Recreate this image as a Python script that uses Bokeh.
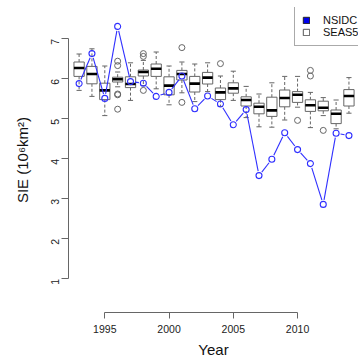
import math
from bokeh.plotting import figure
from bokeh.models import Range1d, Legend, LegendItem, FixedTicker, Title
from bokeh.embed import file_html
from bokeh.resources import INLINE

# ---------------- data ----------------
years = list(range(1993, 2015))
nsidc = [5.88, 6.63, 5.51, 7.31, 5.93, 5.89, 5.56, 5.66, 6.07, 5.25, 5.57,
         5.37, 4.85, 5.23, 3.58, 3.99, 4.65, 4.23, 3.88, 2.86, 4.64, 4.58]

seas5_low = [5.71, 5.56, 5.08, 5.80, 5.46, 5.83, 5.75, 5.35, 5.65, 5.43, 5.68,
             5.31, 5.46, 5.03, 4.80, 4.79, 4.97, 5.29, 4.78, 5.08, 4.75, 5.14]
seas5_q1 = [6.06, 5.875, 5.48, 5.92, 5.78, 6.07, 6.06, 5.60, 5.97, 5.67, 5.87,
            5.48, 5.64, 5.32, 5.125, 5.06, 5.30, 5.41, 5.185, 5.20, 4.88, 5.32]
seas5_med = [6.27, 6.12, 5.71, 5.99, 5.87, 6.17, 6.25, 5.83, 6.12, 5.88, 6.03,
             5.66, 5.76, 5.47, 5.30, 5.21, 5.52, 5.60, 5.34, 5.275, 5.125, 5.57]
seas5_q3 = [6.42, 6.31, 5.89, 6.04, 6.05, 6.22, 6.37, 6.05, 6.21, 6.06, 6.16,
            5.77, 5.90, 5.55, 5.39, 5.54, 5.72, 5.68, 5.475, 5.44, 5.22, 5.73]
seas5_high = [6.62, 6.75, 6.32, 6.17, 6.40, 6.46, 6.67, 6.32, 6.42, 6.37, 6.40,
              6.07, 6.19, 5.81, 5.62, 5.90, 6.06, 6.06, 5.66, 5.53, 5.47, 6.03]

outlier_years = [1996, 1996, 1996, 1996, 1996, 1998, 1998, 1998, 2001, 2001,
                 2004, 2010, 2011, 2011, 2012]
outlier_values = [6.44, 6.33, 5.62, 5.60, 5.24, 6.63, 6.56, 5.71, 6.78, 5.41,
                  6.38, 4.96, 6.21, 6.07, 4.71]

x_ticks = [1995, 2000, 2005, 2010]
y_ticks = [1, 2, 3, 4, 5, 6, 7]

# ---------------- layout ----------------
W, H = 358, 360
BL, BR, BT, BB = 68, 0, 7, 48
X0, X1 = 1992.175, 2014.743
Y0, Y1 = 0.1575, 7.7825

FONT = "Liberation Sans"
BLUE = "#2f2fff"
GREY = "#666666"

p = figure(width=W, height=H, x_range=Range1d(X0, X1), y_range=Range1d(Y0, Y1),
           output_backend="svg", toolbar_location=None,
           min_border_left=BL, min_border_right=BR,
           min_border_top=BT, min_border_bottom=BB)
p.outline_line_color = None
p.grid.visible = False
p.background_fill_color = "white"
p.border_fill_color = "white"

# axes
for ax in (p.xaxis[0], p.yaxis[0]):
    ax.axis_line_color = GREY
    ax.major_tick_line_color = GREY
    ax.minor_tick_line_color = None
    ax.major_tick_in = 0
    ax.major_label_text_font = FONT
    ax.major_label_text_font_size = "10.5px"
    ax.major_label_text_color = "#222222"
    ax.axis_label_text_font = FONT
    ax.axis_label_text_font_size = "15px"
    ax.axis_label_text_font_style = "normal"
    ax.axis_label_text_color = "#111111"

xa = p.xaxis[0]
xa.ticker = FixedTicker(ticks=x_ticks)
xa.bounds = (x_ticks[0], x_ticks[-1])
xa.major_tick_out = 6
xa.major_label_standoff = 6

ya = p.yaxis[0]
ya.ticker = FixedTicker(ticks=y_ticks)
ya.bounds = (y_ticks[0], y_ticks[-1])
ya.major_tick_out = 7
ya.major_label_standoff = 6
ya.major_label_orientation = math.pi / 2
ya.axis_label = "SIE (10\u2076km\u00b2)"
ya.axis_label_standoff = 14

# x-axis title as a panel below the axis
p.add_layout(Title(text="Year", align="center", text_font=FONT,
                   text_font_size="15px", text_font_style="normal",
                   text_color="#111111", standoff=6, offset=0), "below")

# ---------------- SEAS5 boxplots ----------------
half_box = 0.4
half_cap = 0.2
p.segment(x0=years, y0=seas5_q3, x1=years, y1=seas5_high,
          line_color=GREY, line_dash="3 2", line_width=1)
p.segment(x0=years, y0=seas5_q1, x1=years, y1=seas5_low,
          line_color=GREY, line_dash="3 2", line_width=1)
p.segment(x0=[y - half_cap for y in years], y0=seas5_high,
          x1=[y + half_cap for y in years], y1=seas5_high,
          line_color=GREY, line_width=1)
p.segment(x0=[y - half_cap for y in years], y0=seas5_low,
          x1=[y + half_cap for y in years], y1=seas5_low,
          line_color=GREY, line_width=1)
p.quad(left=[y - half_box for y in years], right=[y + half_box for y in years],
       top=seas5_q3, bottom=seas5_q1,
       fill_color="white", line_color=GREY, line_width=1)
p.segment(x0=[y - half_box for y in years], y0=seas5_med,
          x1=[y + half_box for y in years], y1=seas5_med,
          line_color="black", line_width=2.6)
p.scatter(x=outlier_years, y=outlier_values, marker="circle", size=6,
          fill_color=None, line_color=GREY, line_width=1)

# ---------------- NSIDC (type "b": lines with gaps at points) ----------------
fw = W - BL - BR
fh = H - BT - BB
sx = fw / (X1 - X0)
sy = fh / (Y1 - Y0)
gap = 4.5
gx0, gy0, gx1, gy1 = [], [], [], []
for i in range(len(years) - 1):
    xa0, ya0, xb, yb = years[i], nsidc[i], years[i + 1], nsidc[i + 1]
    d = math.hypot((xb - xa0) * sx, (yb - ya0) * sy)
    if d > 2 * gap:
        t = gap / d
        gx0.append(xa0 + (xb - xa0) * t)
        gy0.append(ya0 + (yb - ya0) * t)
        gx1.append(xb - (xb - xa0) * t)
        gy1.append(yb - (yb - ya0) * t)
p.segment(x0=gx0, y0=gy0, x1=gx1, y1=gy1, line_color=BLUE, line_width=1.1)
p.scatter(x=years, y=nsidc, marker="circle", size=6,
          fill_color=None, line_color=BLUE, line_width=1.1)

# ---------------- legend ----------------
nan = float("nan")
r_n = p.quad(left=[nan], right=[nan], top=[nan], bottom=[nan],
             fill_color="#0000ee", line_color="#222222")
r_s = p.quad(left=[nan], right=[nan], top=[nan], bottom=[nan],
             fill_color="white", line_color="#555555")
legend = Legend(items=[LegendItem(label="NSIDC", renderers=[r_n]),
                       LegendItem(label="SEAS5", renderers=[r_s])],
                location=(226, 266), orientation="vertical",
                glyph_width=8, glyph_height=8, label_height=12,
                label_standoff=13, spacing=0, padding=7, margin=0,
                label_text_font=FONT, label_text_font_size="11px",
                label_text_color="#111111",
                border_line_color="#555555", border_line_width=1,
                background_fill_color="white", background_fill_alpha=1.0)
p.add_layout(legend)

open("out.html", "w").write(file_html(p, INLINE))
